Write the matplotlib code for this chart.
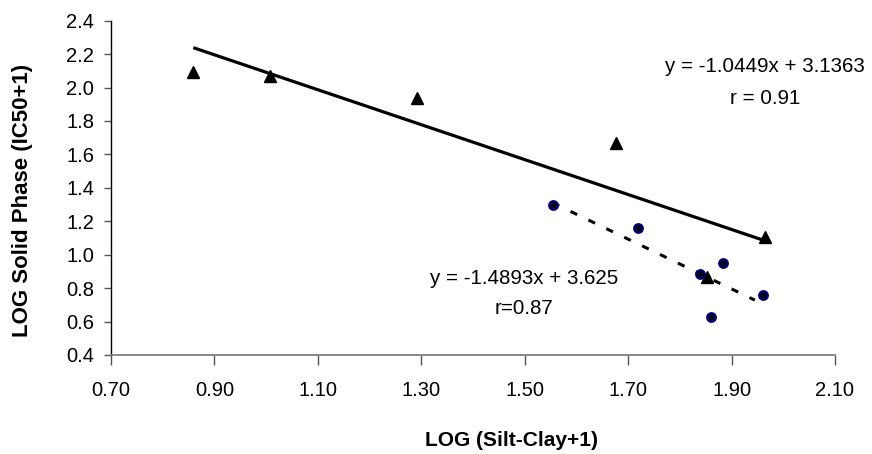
import matplotlib
matplotlib.use("Agg")
import matplotlib.pyplot as plt
import numpy as np

plt.rcParams['font.family'] = ['Liberation Sans', 'DejaVu Sans']

# Data
tri_x = [0.859, 1.007, 1.292, 1.677, 1.853, 1.965]
tri_y = [2.096, 2.072, 1.939, 1.670, 0.867, 1.103]
dot_x = [1.554, 1.719, 1.839, 1.883, 1.960, 1.861]
dot_y = [1.296, 1.158, 0.884, 0.953, 0.758, 0.625]

fit1_slope, fit1_icpt = -1.0449, 3.1363
fit2_slope, fit2_icpt = -1.4893, 3.625
fit1_label = "y = -1.0449x + 3.1363"
fit1_r = "r = 0.91"
fit2_label = "y = -1.4893x + 3.625"
fit2_r = "r=0.87"

xticks = [0.70, 0.90, 1.10, 1.30, 1.50, 1.70, 1.90, 2.10]
yticks = [0.4, 0.6, 0.8, 1.0, 1.2, 1.4, 1.6, 1.8, 2.0, 2.2, 2.4]

W, H = 872, 454
fig = plt.figure(figsize=(W / 100, H / 100), dpi=100)
ax = fig.add_axes([111 / W, (H - 355) / H, (835 - 111) / W, (355 - 20.7) / H])

# trend lines
x1 = np.array([min(tri_x), max(tri_x)])
ax.plot(x1, fit1_slope * x1 + fit1_icpt, color='black', lw=2.3, solid_capstyle='butt', zorder=2)
x2 = np.array([min(dot_x), max(dot_x) - 0.015])
ax.plot(x2, fit2_slope * x2 + fit2_icpt, color='black', lw=2.2, linestyle=(0, (2.4, 4.1)),
        dash_capstyle='butt', zorder=2)

ax.plot(tri_x, tri_y, linestyle='none', marker='^', markersize=8, color='black', zorder=3)
ax.plot(dot_x, dot_y, linestyle='none', marker='o', markersize=6.5, markerfacecolor='#000020',
        markeredgecolor='#00007a', markeredgewidth=1.3, zorder=3)

ax.set_xlim(0.70, 2.10)
ax.set_ylim(0.4, 2.4)
ax.set_xticks(xticks)
ax.set_xticklabels([f"{v:.2f}" for v in xticks])
ax.set_yticks(yticks)
ax.set_yticklabels([f"{v:.1f}" for v in yticks])

for s in ['top', 'right']:
    ax.spines[s].set_visible(False)
ax.spines['left'].set_color('black')
ax.spines['left'].set_linewidth(1.0)
ax.spines['bottom'].set_color('#808080')
ax.spines['bottom'].set_linewidth(1.3)

ax.tick_params(axis='x', direction='out', length=7, width=1.0, color='#555555', pad=12, labelsize=14.5)
ax.tick_params(axis='y', direction='out', length=5, width=1.0, color='#555555', pad=7, labelsize=14.5)

def px(xp, yp):
    return xp / W, 1 - yp / H

fig.text(*px(765, 67), fit1_label, ha='center', va='center', fontsize=14.8)
fig.text(*px(765, 98), fit1_r, ha='center', va='center', fontsize=14.8)
fig.text(*px(524, 278), fit2_label, ha='center', va='center', fontsize=14.8)
fig.text(*px(524, 309), fit2_r, ha='center', va='center', fontsize=14.8)

fig.text(*px(511, 440), "LOG (Silt-Clay+1)", ha='center', va='center', fontsize=15, fontweight='bold')
fig.text(*px(23, 200), "LOG Solid Phase (IC50+1)", ha='center', va='center', rotation=90,
         fontsize=16, fontweight='bold')

fig.savefig("out.png", dpi=100)
